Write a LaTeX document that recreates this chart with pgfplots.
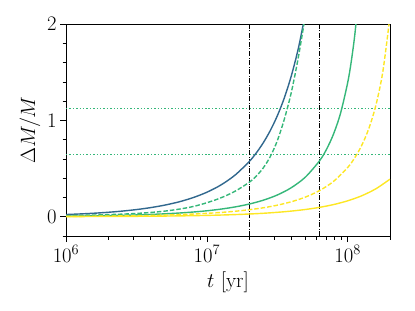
\documentclass[border=0pt]{standalone}
\usepackage{pgfplots}
\pgfplotsset{compat=1.18}
\definecolor{vblue}{HTML}{31688E}
\definecolor{vgreen}{HTML}{35B779}
\definecolor{vyellow}{HTML}{FDE725}
\begin{document}
\begin{tikzpicture}
\begin{axis}[
  name=ax, scale only axis, width=324bp, height=212bp,
  xmode=log, xmin=1e6, xmax=2e8, ymin=-0.2, ymax=2,
  xtick={1e6,1e7,1e8},
  minor xtick={2e6,3e6,4e6,5e6,6e6,7e6,8e6,9e6,2e7,3e7,4e7,5e7,6e7,7e7,8e7,9e7,2e8},
  ytick={0,1,2},
  minor ytick={-0.2,0.2,0.4,0.6,0.8,1.2,1.4,1.6,1.8},
  tick align=outside, tick pos=left,
  major tick length=6bp, minor tick length=3.5bp,
  every tick/.style={black, line width=0.6bp},
  axis line style={line width=0.8bp},
  tick label style={font=\fontsize{21}{21}\selectfont},
  label style={font=\fontsize{21}{21}\selectfont},
  xlabel={$t$ [yr]}, ylabel={$\Delta M/M$},
  xlabel style={yshift=-3bp},
  every axis plot/.append style={line width=1.4bp},
]
% reference lines
\addplot[vgreen, dotted, line width=0.7bp] coordinates {(1e6,1.122) (2e8,1.122)};
\addplot[vgreen, dotted, line width=0.7bp] coordinates {(1e6,0.646) (2e8,0.646)};
\addplot[black, line width=0.7bp, dash pattern=on 5bp off 1.5bp on 1bp off 1.5bp] coordinates {(2e7,-0.2) (2e7,2)};
\addplot[black, line width=0.7bp, dash pattern=on 5bp off 1.5bp on 1bp off 1.5bp] coordinates {(6.27e7,-0.2) (6.27e7,2)};
% blue solid
\addplot[vblue, smooth] coordinates {
(1e6,0.0229) (1.259e6,0.0289) (1.585e6,0.0365) (1.995e6,0.0462) (2.512e6,0.0585)
(3.162e6,0.0742) (3.981e6,0.0942) (5.012e6,0.1201) (6.31e6,0.1535) (7.943e6,0.1969)
(1e7,0.2539) (1.259e7,0.3295) (1.585e7,0.4313) (1.995e7,0.5705) (2.239e7,0.6596)
(2.512e7,0.7653) (2.818e7,0.8920) (3.162e7,1.0450) (3.548e7,1.2314) (3.981e7,1.4613)
(4.467e7,1.7473) (5.012e7,2.1078)};
% green dashed
\addplot[vgreen, smooth, dash pattern=on 4.5bp off 2bp] coordinates {
(1e6,0.012) (1.259e6,0.0145) (1.585e6,0.0178) (1.995e6,0.022) (2.512e6,0.027)
(3.162e6,0.034) (3.981e6,0.044) (5.012e6,0.058) (6.31e6,0.078) (7.943e6,0.105)
(1e7,0.145) (1.259e7,0.196) (1.585e7,0.264) (1.995e7,0.356) (2.239e7,0.420)
(2.512e7,0.505) (2.818e7,0.622) (3.162e7,0.786) (3.548e7,1.010) (3.981e7,1.290)
(4.467e7,1.655) (5.012e7,2.090)};
% green solid
\addplot[vgreen, smooth] coordinates {
(1e6,0.0059) (1.259e6,0.0074) (1.585e6,0.0093) (1.995e6,0.0117) (2.512e6,0.0148)
(3.162e6,0.0187) (3.981e6,0.0237) (5.012e6,0.0300) (6.31e6,0.0381) (7.943e6,0.0484)
(1e7,0.0617) (1.259e7,0.0790) (1.585e7,0.1015) (1.995e7,0.1312) (2.512e7,0.1710)
(3.162e7,0.2252) (3.981e7,0.3012) (5.012e7,0.4112) (6.31e7,0.5794) (7.079e7,0.6994)
(7.943e7,0.8581) (8.913e7,1.0755) (1e8,1.3889) (1.059e8,1.6021) (1.122e8,1.8763)
(1.189e8,2.2392)};
% yellow dashed
\addplot[vyellow, smooth, dash pattern=on 4.5bp off 2bp] coordinates {
(1e6,0.0034) (1.259e6,0.0043) (1.585e6,0.0054) (1.995e6,0.0068) (2.512e6,0.0086)
(3.162e6,0.0108) (3.981e6,0.0136) (5.012e6,0.0172) (6.31e6,0.0218) (7.943e6,0.0276)
(1e7,0.0350) (1.259e7,0.0444) (1.585e7,0.0566) (1.995e7,0.0723) (2.512e7,0.0927)
(3.162e7,0.1196) (3.981e7,0.1554) (5.012e7,0.2038) (6.31e7,0.2709) (7.943e7,0.3668)
(1e8,0.5102) (1.122e8,0.6104) (1.259e8,0.7402) (1.413e8,0.9134) (1.585e8,1.1527)
(1.778e8,1.5042) (2e8,2.0833)};
% yellow solid
\addplot[vyellow, smooth] coordinates {
(1e6,0.0014) (1.259e6,0.0017) (1.585e6,0.0022) (1.995e6,0.0027) (2.512e6,0.0034)
(3.162e6,0.0043) (3.981e6,0.0054) (5.012e6,0.0068) (6.31e6,0.0086) (7.943e6,0.0109)
(1e7,0.0138) (1.259e7,0.0175) (1.585e7,0.0222) (1.995e7,0.0281) (2.512e7,0.0358)
(3.162e7,0.0457) (3.981e7,0.0585) (5.012e7,0.0752) (6.31e7,0.0971) (7.943e7,0.1262)
(1e8,0.1650) (1.259e8,0.2175) (1.585e8,0.2894) (2e8,0.3900)};
\end{axis}
\pgfresetboundingbox
\path ([shift={(-66bp,-75bp)}]ax.south west) rectangle ([shift={(25bp,24bp)}]ax.north east);
\end{tikzpicture}
\end{document}
